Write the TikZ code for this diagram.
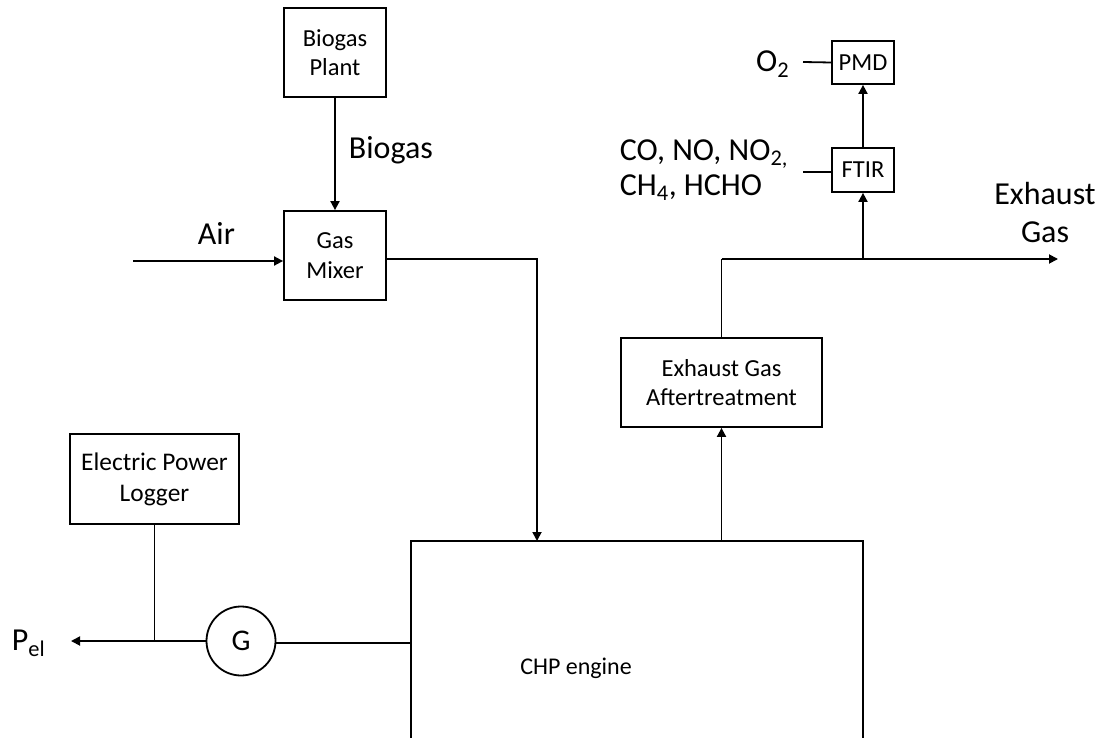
\documentclass[tikz,border=0pt]{standalone}
\usepackage{fontspec}
\setmainfont{Carlito}
\usetikzlibrary{arrows.meta,calc}
\begin{document}
\begin{tikzpicture}[x=1pt,y=-1pt,line width=1.8pt,
  box/.style={draw,align=center,inner sep=0pt,font=\fontsize{24.5}{29.5}\selectfont},
  smallbox/.style={draw,align=center,inner sep=0pt,font=\fontsize{24.5}{29.5}\selectfont},
  biglabel/.style={inner sep=0pt,align=center,font=\fontsize{32}{35}\selectfont},
  arr/.style={-{Triangle[length=9pt,width=9pt]}}]
\clip (0,0) rectangle (1102,738);
\useasboundingbox (0,0) rectangle (1102,738);
% boxes
\node[box,minimum width=102pt,minimum height=89pt] (bp) at (335,52.5) {Biogas\\Plant};
\node[box,minimum width=102pt,minimum height=89pt] (gm) at (335,255.5) {Gas\\Mixer};
\node[box,minimum width=201pt,minimum height=89pt] (ega) at (721.5,382.5) {Exhaust Gas\\Aftertreatment};
\node[smallbox,minimum width=62pt,minimum height=44pt] (ftir) at (863,170) {FTIR};
\node[smallbox,minimum width=62pt,minimum height=43pt] (pmd) at (863,62.5) {PMD};
\node[box,minimum width=169pt,minimum height=90pt,font=\fontsize{25.4}{31}\selectfont] (epl) at (154.5,479) {Electric Power\\Logger};
\node[draw,circle,minimum size=69pt,inner sep=0pt,font=\fontsize{30}{36}\selectfont] (G) at (241,641) {G};
\node[draw,minimum width=452pt,minimum height=218pt,inner sep=0pt] (chp) at (637,650) {};
\node[inner sep=0pt,font=\fontsize{24}{29}\selectfont] (chplabel) at (576,668) {CHP engine};
% labels
\node[biglabel,anchor=base west] (biogaslbl) at (348,159) {Biogas};
\node[biglabel,anchor=base west] (airlbl) at (197,244) {Air};
\node[biglabel,anchor=base east] (o2lbl) at (790,72) {O\textsubscript{2}};
\node[biglabel,align=left,anchor=base west] (gaslbl) at (619,195) {CO, NO, NO\textsubscript{2,}\\CH\textsubscript{4}, HCHO};
\node[biglabel,font=\fontsize{32}{38}\selectfont,anchor=base] (exlbl) at (1045,242) {Exhaust\\Gas};
\node[biglabel,anchor=base west] (pel) at (11,650) {P\textsubscript{el}};
% coordinates
\coordinate (airL) at (133,261);
\coordinate (chpin) at (537,541);
\coordinate (exT) at (721.5,259);
\coordinate (exEnd) at (1058,259);
\coordinate (br) at (863,259);
\coordinate (o2L) at (803,62);
\coordinate (ftL) at (803,172);
\coordinate (jn) at (154.5,641);
\coordinate (pelEnd) at (71,641);
% connectors
\draw[arr] (bp.south) -- (gm.north);
\draw[arr] (airL) -- (airL -| gm.west);
\draw[arr] ([yshift=-3.5pt]gm.east) -| (chpin);
\draw[arr] (chp.north -| ega.south) -- (ega.south);
\draw (ega.north) -- (exT);
\draw[arr] (exT) -- (exEnd);
\draw[arr] (br) -- (ftir.south);
\draw[arr] (ftir.north) -- (pmd.south);
\draw (o2L) -- (pmd.west);
\draw (ftL) -- (ftL -| ftir.west);
\draw (epl.south) -- (jn);
\draw[arr] (G.west) -- (pelEnd);
\draw ([yshift=-2pt]G.east) -- ([yshift=-2pt]G.east -| chp.west);
\end{tikzpicture}
\end{document}
